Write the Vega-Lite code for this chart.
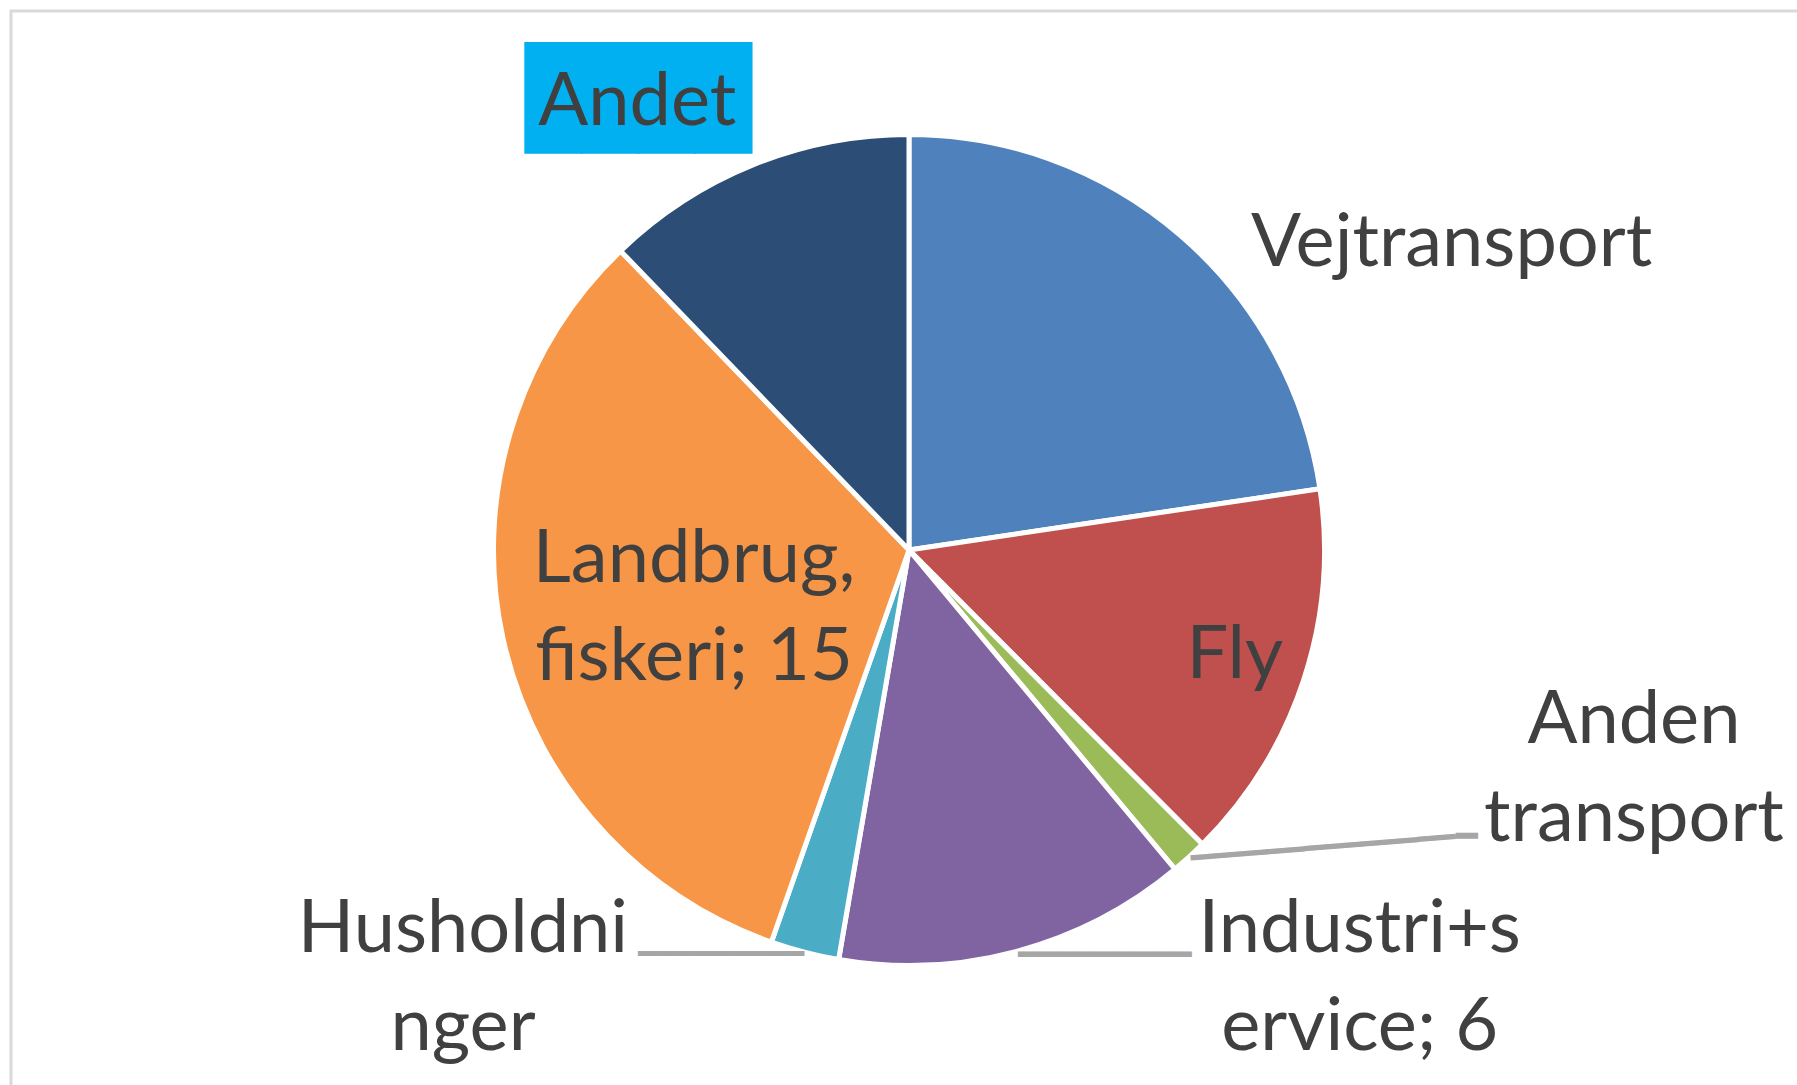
{
  "$schema": "https://vega.github.io/schema/vega-lite/v6.json",
  "width": 1796,
  "height": 1078,
  "autosize": {"type": "none"},
  "padding": {"left": 11, "top": 11, "right": -10, "bottom": -4},
  "background": "white",
  "config": {
    "view": {"stroke": "#D9D9D9", "strokeWidth": 3},
    "style": {"view": {"stroke": "#D9D9D9", "strokeWidth": 3}}
  },
  "data": {
    "values": [
      {"label": "Vejtransport", "lbl": "Vejtransport", "value": 10.2, "order": 1},
      {"label": "Fly", "lbl": "Fly", "value": 6.7, "order": 2},
      {"label": "Anden transport", "lbl": "Anden\ntransport", "value": 0.64, "order": 3},
      {"label": "Industri+service", "lbl": "Industri+s\nervice; 6", "value": 6.2, "order": 4},
      {"label": "Husholdninger", "lbl": "Husholdni\nnger", "value": 1.2, "order": 5},
      {"label": "Landbrug, fiskeri", "lbl": "Landbrug,\nfiskeri; 15", "value": 14.6, "order": 6},
      {"label": "Andet", "lbl": "Andet", "value": 5.5, "order": 7}
    ]
  },
  "encoding": {
    "theta": {"field": "value", "type": "quantitative", "stack": true},
    "order": {"field": "order", "type": "quantitative"}
  },
  "layer": [
    {
      "mark": {"type": "arc", "radius": 415.5, "stroke": "white", "strokeWidth": 5},
      "encoding": {
        "color": {
          "field": "label",
          "type": "nominal",
          "scale": {
            "domain": ["Vejtransport", "Fly", "Anden transport", "Industri+service", "Husholdninger", "Landbrug, fiskeri", "Andet"],
            "range": ["#4F81BD", "#C0504D", "#9BBB59", "#8064A2", "#4BACC6", "#F79646", "#2C4D75"]
          },
          "legend": null
        }
      }
    },
    {
      "mark": {"type": "text", "radius": 450, "dx": -75, "dy": -31, "align": "center", "baseline": "middle", "font": "DejaVu Sans Mono", "fontSize": 30.6, "fill": "#A6A6A6"},
      "encoding": {"text": {"condition": {"test": "datum.label === 'Husholdninger'", "value": "━━━━━━━━━"}, "value": ""}}
    },
    {
      "mark": {"type": "text", "radius": 450, "dx": 79, "dy": -30, "align": "center", "baseline": "middle", "font": "DejaVu Sans Mono", "fontSize": 32, "fill": "#A6A6A6"},
      "encoding": {"text": {"condition": {"test": "datum.label === 'Industri+service'", "value": "━━━━━━━━━"}, "value": ""}}
    },
    {
      "mark": {"type": "text", "radius": 460, "dx": 107.3, "dy": -32.2, "angle": -4.66, "align": "center", "baseline": "middle", "font": "DejaVu Sans Mono", "fontSize": 31.5, "fill": "#A6A6A6"},
      "encoding": {"text": {"condition": {"test": "datum.label === 'Anden transport'", "value": "━━━━━━━━━━━━━━"}, "value": ""}}
    },
    {
      "mark": {"type": "text", "radius": 460, "dx": 248, "dy": -53.3, "align": "center", "baseline": "middle", "font": "DejaVu Sans Mono", "fontSize": 36, "fill": "#A6A6A6"},
      "encoding": {"text": {"condition": {"test": "datum.label === 'Anden transport'", "value": "━"}, "value": ""}}
    },
    {
      "mark": {"type": "text", "radius": 480, "dx": -91, "dy": -3.1, "align": "center", "baseline": "middle", "font": "DejaVu Sans Mono", "fontSize": 94, "fill": "#00B0F0"},
      "encoding": {"text": {"condition": {"test": "datum.label === 'Andet'", "value": "████"}, "value": ""}}
    },
    {
      "mark": {"type": "text", "radius": 560, "dx": 177, "dy": 140, "align": "center", "baseline": "alphabetic", "font": "Lato", "fontSize": 74, "fill": "#404040", "lineBreak": "\n", "lineHeight": 98},
      "encoding": {"text": {"condition": {"test": "datum.label === 'Vejtransport'", "field": "lbl", "type": "nominal"}, "value": ""}}
    },
    {
      "mark": {"type": "text", "radius": 300, "dx": 41, "dy": 34, "align": "center", "baseline": "alphabetic", "font": "Lato", "fontSize": 74, "fill": "#404040", "lineBreak": "\n", "lineHeight": 98},
      "encoding": {"text": {"condition": {"test": "datum.label === 'Fly'", "field": "lbl", "type": "nominal"}, "value": ""}}
    },
    {
      "mark": {"type": "text", "radius": 460, "dx": 415, "dy": -147, "align": "center", "baseline": "alphabetic", "font": "Lato", "fontSize": 74, "fill": "#404040", "lineBreak": "\n", "lineHeight": 98},
      "encoding": {"text": {"condition": {"test": "datum.label === 'Anden transport'", "field": "lbl", "type": "nominal"}, "value": ""}}
    },
    {
      "mark": {"type": "text", "radius": 450, "dx": 334, "dy": -33, "align": "center", "baseline": "alphabetic", "font": "Lato", "fontSize": 74, "fill": "#404040", "lineBreak": "\n", "lineHeight": 98},
      "encoding": {"text": {"condition": {"test": "datum.label === 'Industri+service'", "field": "lbl", "type": "nominal"}, "value": ""}}
    },
    {
      "mark": {"type": "text", "radius": 450, "dx": -333, "dy": -34, "align": "center", "baseline": "alphabetic", "font": "Lato", "fontSize": 74, "fill": "#404040", "lineBreak": "\n", "lineHeight": 98},
      "encoding": {"text": {"condition": {"test": "datum.label === 'Husholdninger'", "field": "lbl", "type": "nominal"}, "value": ""}}
    },
    {
      "mark": {"type": "text", "radius": 220, "dx": 0, "dy": -15, "align": "center", "baseline": "alphabetic", "font": "Lato", "fontSize": 74, "fill": "#404040", "lineBreak": "\n", "lineHeight": 98},
      "encoding": {"text": {"condition": {"test": "datum.label === 'Landbrug, fiskeri'", "field": "lbl", "type": "nominal"}, "value": ""}}
    },
    {
      "mark": {"type": "text", "radius": 480, "dx": -92, "dy": 20, "align": "center", "baseline": "alphabetic", "font": "Lato", "fontSize": 74, "fill": "#404040", "lineBreak": "\n", "lineHeight": 98},
      "encoding": {"text": {"condition": {"test": "datum.label === 'Andet'", "field": "lbl", "type": "nominal"}, "value": ""}}
    }
  ]
}
